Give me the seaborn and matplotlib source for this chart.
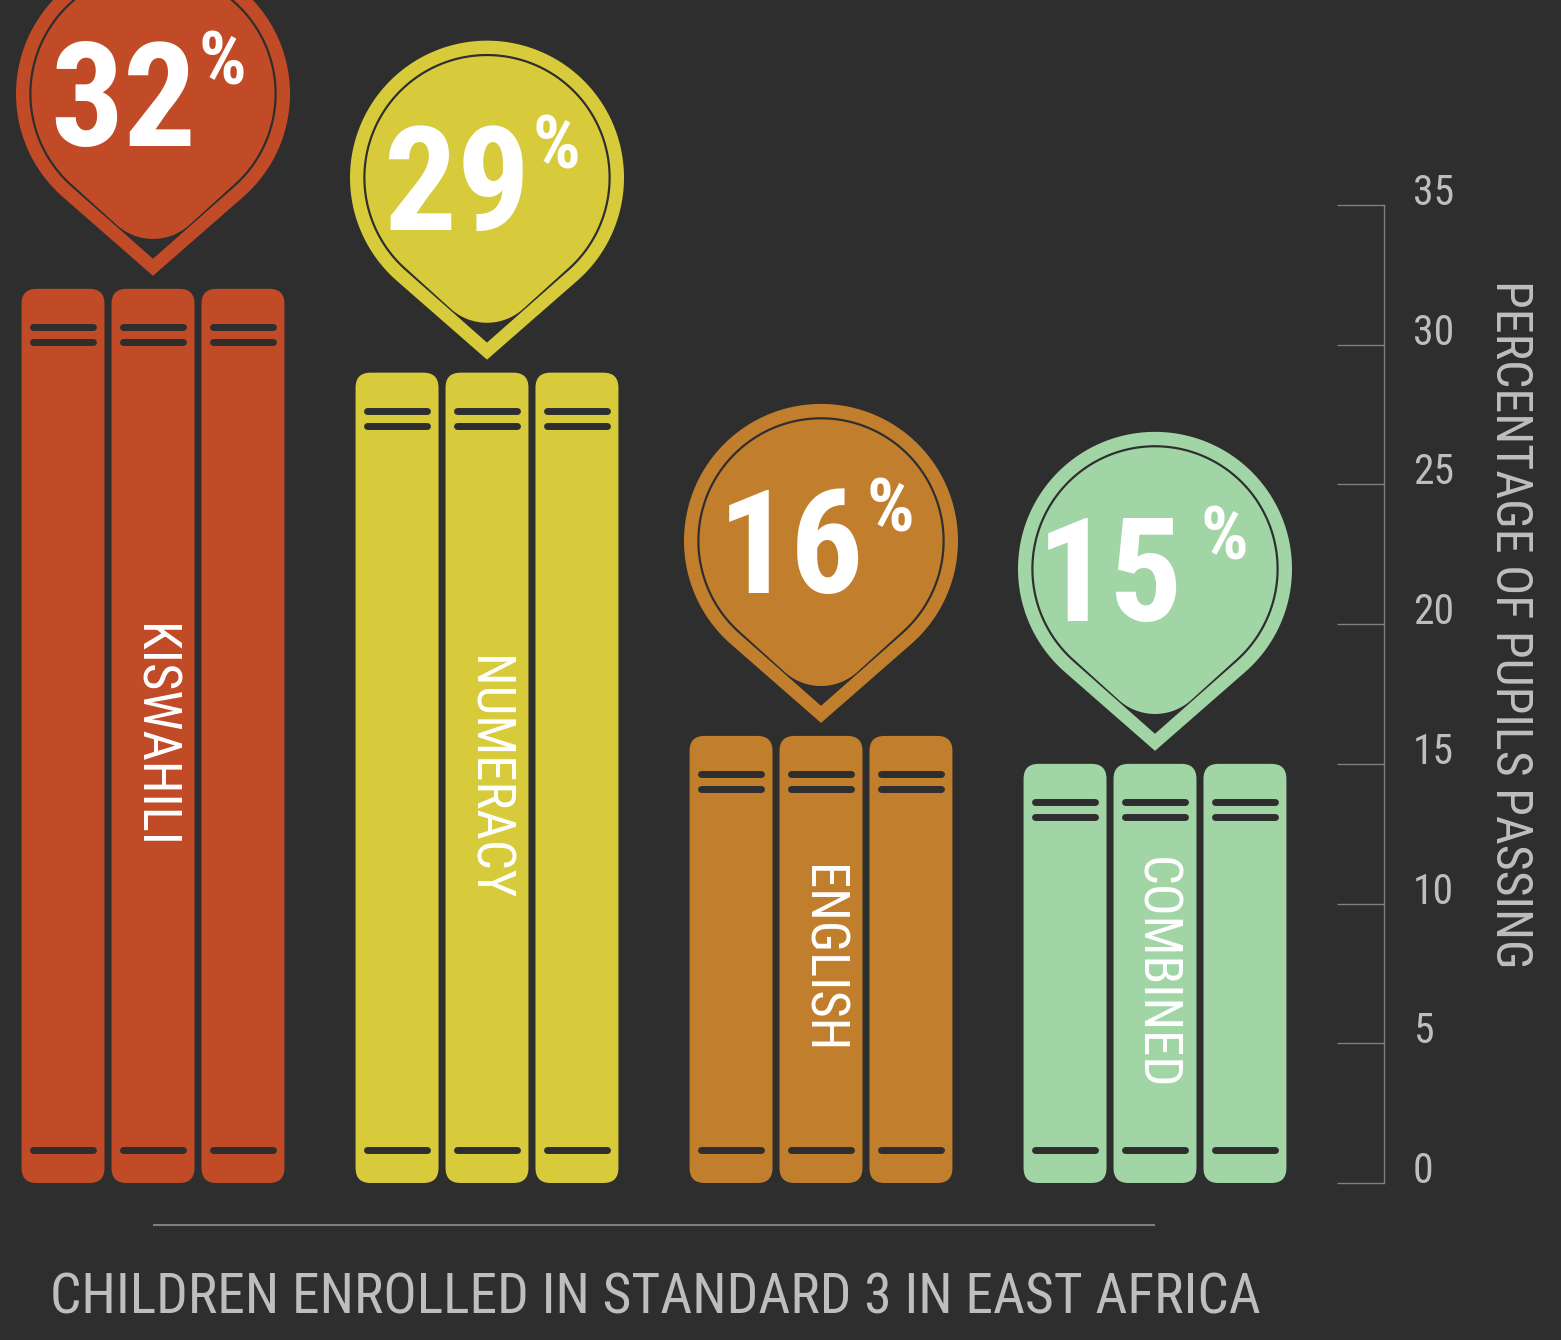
import numpy as np
import pandas as pd
import matplotlib
matplotlib.use('Agg')
import matplotlib.pyplot as plt
import matplotlib.patches as mpatches
import matplotlib.transforms as mtransforms
from matplotlib.lines import Line2D
from matplotlib import font_manager as fm
import seaborn as sns

subjects = ['KISWAHILI', 'NUMERACY', 'ENGLISH', 'COMBINED']
pass_pct = [32, 29, 16, 15]
subject_colors = ['#c14b27', '#d8cb3b', '#c17f2d', '#a2d5a6']
book_slots = ['left', 'middle', 'right']
yticks = [0, 5, 10, 15, 20, 25, 30, 35]
title = 'CHILDREN ENROLLED IN STANDARD 3 IN EAST AFRICA'
ylabel = 'PERCENTAGE OF PUPILS PASSING'

BG = '#2e2e2e'
GREY = '#bdbec0'
AXIS = '#7f7f7f'
pct_gap = [3, 3, 3, 18]  # space between the number and the % sign, px


def pick_font(names):
    for n in names:
        try:
            fm.findfont(fm.FontProperties(family=n), fallback_to_default=False)
            return n
        except ValueError:
            continue
    return 'DejaVu Sans'


FONT = pick_font(['Roboto Condensed', 'Liberation Sans Narrow',
                  'DejaVu Sans Condensed', 'Roboto'])

df = pd.DataFrame({
    'subject': np.repeat(subjects, len(book_slots)),
    'book': book_slots * len(subjects),
    'pct': np.repeat(pass_pct, len(book_slots)),
})

sns.set_style('dark')
plt.rcParams['font.family'] = [FONT, 'DejaVu Sans']

fig = plt.figure(figsize=(15.61, 13.40), dpi=100, facecolor=BG)
ax = fig.add_axes([0, 157 / 1340, 1384 / 1561, 978 / 1340])
ax.set_facecolor(BG)

sns.barplot(data=df, x='subject', y='pct', hue='book', width=0.808, gap=0.078,
            errorbar=None, legend=False, ax=ax)
ax.set_ylim(0, 35)
ax.set_xlim(-153 / 334, 1231 / 334)

ident = mtransforms.IdentityTransform()

# books: rounded rectangles with spine bands, built from the seaborn bars
for cont in ax.containers:
    for bar in cont:
        x0, w, h = bar.get_x(), bar.get_width(), bar.get_height()
        ci = int(round(x0 + w / 2))
        (px0, py0), (px1, py1) = ax.transData.transform([(x0, 0), (x0 + w, h)])
        bar.set_visible(False)
        ax.add_patch(mpatches.FancyBboxPatch(
            (px0, py0), px1 - px0, py1 - py0,
            boxstyle='round,pad=0,rounding_size=15',
            fc=subject_colors[ci], ec='none', transform=ident, zorder=2))
        for yy in (py1 - 38, py1 - 53, py0 + 33):
            ax.add_line(Line2D([px0 + 11.5, px1 - 11.5], [yy, yy], transform=ident,
                               color=BG, lw=5.0, solid_capstyle='round', zorder=3))


def teardrop(cx, cy, r, d, rho=None, n=200):
    beta = np.arccos(r / d)
    th = np.linspace(-np.pi / 2 + beta, 1.5 * np.pi - beta, n)
    pts = np.column_stack([cx + r * np.cos(th), cy + r * np.sin(th)])
    if rho is None:
        tail = np.array([[cx, cy - d]])
    else:
        fy = cy - (d - rho * d / r)
        ph = np.linspace(1.5 * np.pi - beta, 1.5 * np.pi + beta, 50)
        tail = np.column_stack([cx + rho * np.cos(ph), fy + rho * np.sin(ph)])
    return np.vstack([pts, tail])


# pins with the value above each stack
for i, (val, col) in enumerate(zip(pass_pct, subject_colors)):
    cx, top = ax.transData.transform((i, val))
    cy = top + 195
    ax.add_patch(mpatches.Polygon(teardrop(cx, cy, 137, 182), closed=True,
                                  fc=col, ec='none', transform=ident,
                                  clip_on=False, zorder=4))
    ax.add_patch(mpatches.Polygon(teardrop(cx, cy, 123, 164), closed=True,
                                  fc=BG, ec=BG, lw=1.0, transform=ident,
                                  clip_on=False, zorder=5))
    ax.add_patch(mpatches.Polygon(teardrop(cx, cy, 121.5, 164, rho=54), closed=True,
                                  fc=col, ec='none', transform=ident,
                                  clip_on=False, zorder=6))
    num_right = 46 - pct_gap[i]
    tr_num = mtransforms.offset_copy(ax.transData, fig=fig, x=num_right,
                                     y=195 - 52, units='dots')
    ax.text(i, val, f'{val}', transform=tr_num, ha='right', va='baseline',
            fontsize=104, fontweight='bold', color='white', zorder=7, clip_on=False)
    tr_pct = mtransforms.offset_copy(ax.transData, fig=fig, x=num_right + pct_gap[i],
                                     y=195 + 64, units='dots')
    ax.text(i, val, '%', transform=tr_pct, ha='left', va='top',
            fontsize=54, fontweight='bold', color='white', zorder=7, clip_on=False)
    ax.text(i, val / 2, subjects[i], rotation=-90, ha='center', va='center',
            fontsize=38, color='white', zorder=7)

# baseline rule under the stacks
ax.hlines(-1.5, 0, len(subjects) - 1, color=AXIS, lw=1.5, clip_on=False)

# right-hand axis
for s in ('top', 'left', 'bottom'):
    ax.spines[s].set_visible(False)
ax.spines['right'].set_color(AXIS)
ax.spines['right'].set_linewidth(1.0)
ax.set_xticks([])
ax.set_xlabel('')
ax.yaxis.tick_right()
ax.set_yticks(yticks)
ax.set_yticklabels([str(t) for t in yticks])
ax.tick_params(axis='y', direction='in', length=47 * 0.72, width=1.0, color=AXIS,
               pad=29 * 0.72, labelsize=30, labelcolor=GREY)
plt.setp(ax.get_yticklabels(), va='baseline')
ax.grid(False)

ax.set_ylabel(ylabel, rotation=-90, fontsize=36, color=GREY, ha='center', va='center')
ax.yaxis.set_label_position('right')
ax.yaxis.set_label_coords(1534 / 1384, 0.571)

fig.text(50 / 1561, 27 / 1340, title, ha='left', va='baseline',
         fontsize=40, color=GREY)

fig.savefig('out.png', dpi=100, facecolor=BG)
